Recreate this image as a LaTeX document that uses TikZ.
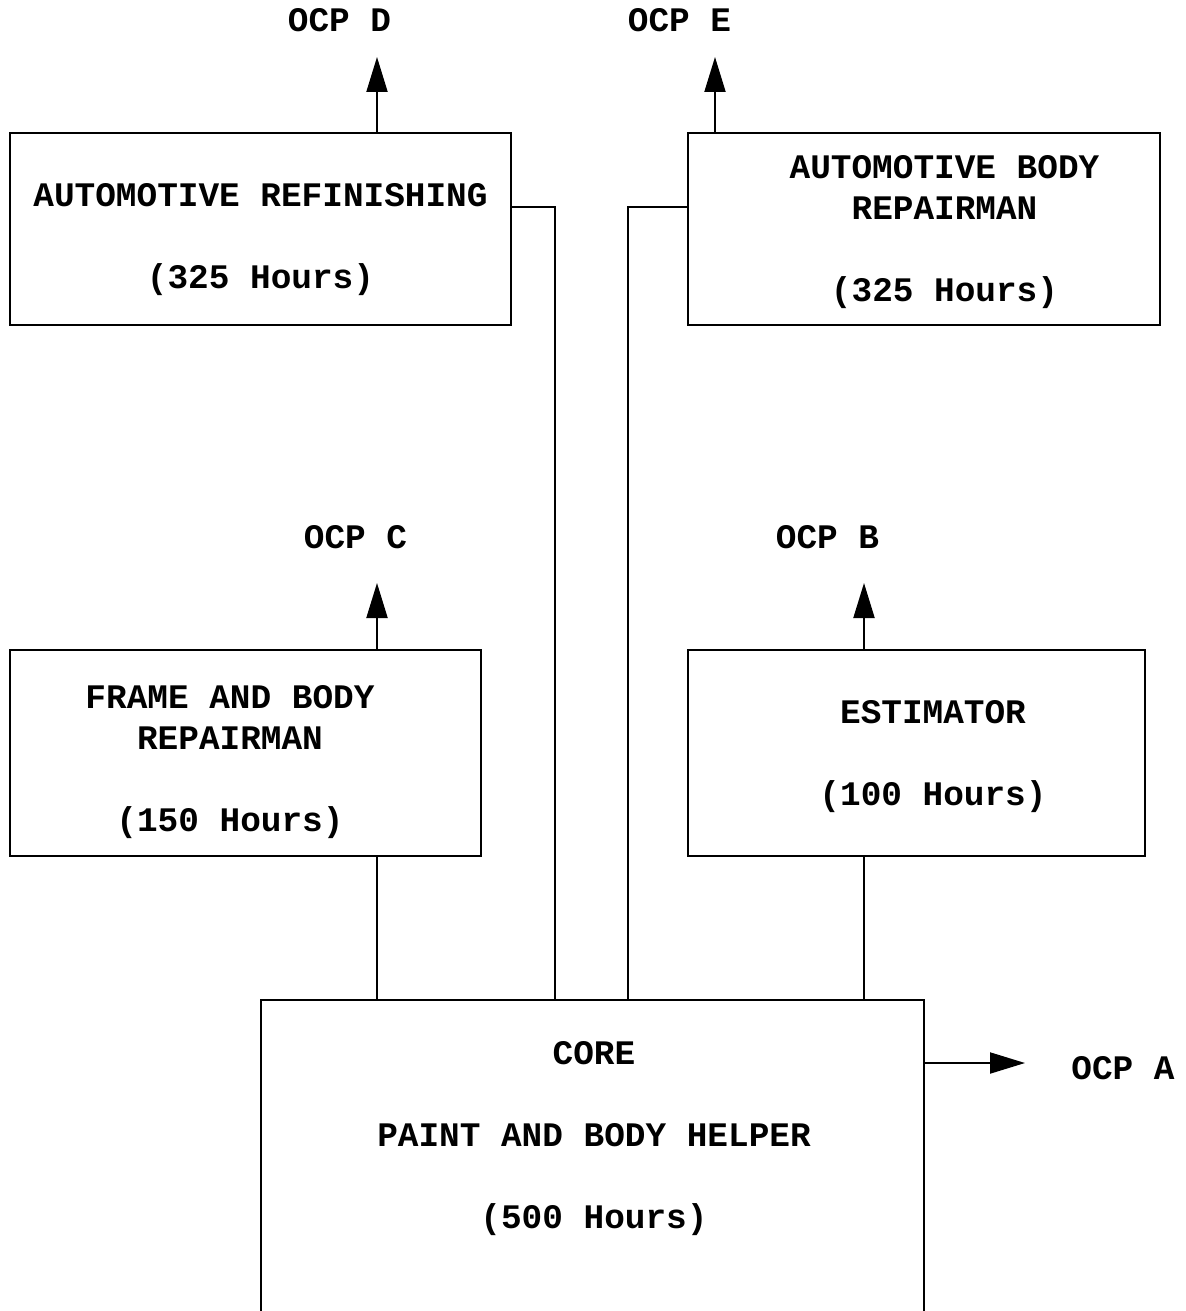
\documentclass[tikz,border=0pt]{standalone}
\usepackage{fontspec}
\setmonofont{Liberation Mono}
\usepackage{tikz}
\usetikzlibrary{arrows.meta,positioning,calc}

\begin{document}
\begin{tikzpicture}[
  x=0.5pt, y=-0.5pt,
  font=\ttfamily\bfseries\fontsize{17.2}{20.5}\selectfont,
  unit/.style={draw, line width=1pt, inner sep=0pt},
  caption/.style={align=center, inner sep=0pt},
  ocp/.style={inner sep=0pt},
  flow/.style={-{Triangle[length=17.5pt, width=10.5pt]}, line width=1pt},
  link/.style={line width=1pt},
]
  \useasboundingbox (0,0) rectangle (1186,1311);
  \clip (0,0) rectangle (1186,1311);

  % Upper row
  \node[unit, minimum width=250.5pt, minimum height=96pt] (refin) at (260.5,229) {};
  \node[caption] (refintxt) at (260.5,240) {AUTOMOTIVE REFINISHING\\[20.5pt](325 Hours)};
  \node[unit, minimum width=236pt, minimum height=96pt] (bodyrep) at (924,229) {};
  \node[caption] (bodyreptxt) at (944.5,232) {AUTOMOTIVE BODY\\REPAIRMAN\\[20.5pt](325 Hours)};

  % Middle row
  \node[unit, minimum width=235.5pt, minimum height=103pt] (frame) at (245.5,753) {};
  \node[caption] (frametxt) at (230,762) {FRAME AND BODY\\REPAIRMAN\\[20.5pt](150 Hours)};
  \node[unit, minimum width=228.5pt, minimum height=103pt] (estim) at (916.5,753) {};
  \node[caption] (estimtxt) at (933,757) {ESTIMATOR\\[20.5pt](100 Hours)};

  % Core
  \node[unit, minimum width=331.5pt, minimum height=180pt] (core) at (592.5,1180) {};
  \node[caption] (coretxt) at (594,1139) {CORE\\[20.5pt]PAINT AND BODY HELPER\\[20.5pt](500 Hours)};

  % Outcome labels
  \node[ocp] (ocpD) at (339.5,20) {OCP D};
  \node[ocp] (ocpE) at (679.5,20) {OCP E};
  \node[ocp] (ocpC) at (355.5,537) {OCP C};
  \node[ocp] (ocpB) at (827.5,537) {OCP B};
  \node[ocp] (ocpA) at (1123,1068) {OCP A};

  \coordinate (tipD) at (377,57);
  \coordinate (tipE) at (715,57);
  \coordinate (tipC) at (377,583);
  \coordinate (tipB) at (864,583);
  \coordinate (tipA) at (1025,1063);
  \coordinate (jl) at (555,207);
  \coordinate (jr) at (628,207);

  % Exit arrows
  \draw[flow] (tipD |- refin.north) -- (tipD);
  \draw[flow] (tipE |- bodyrep.north) -- (tipE);
  \draw[flow] (tipC |- frame.north) -- (tipC);
  \draw[flow] (tipB |- estim.north) -- (tipB);
  \draw[flow] (core.east |- tipA) -- (tipA);

  % Links into core
  \draw[link] (tipC |- frame.south) -- (tipC |- core.north);
  \draw[link] (tipB |- estim.south) -- (tipB |- core.north);
  \draw[link] (refin.east |- jl) -- (jl) -- (jl |- core.north);
  \draw[link] (bodyrep.west |- jr) -- (jr) -- (jr |- core.north);
\end{tikzpicture}
\end{document}
